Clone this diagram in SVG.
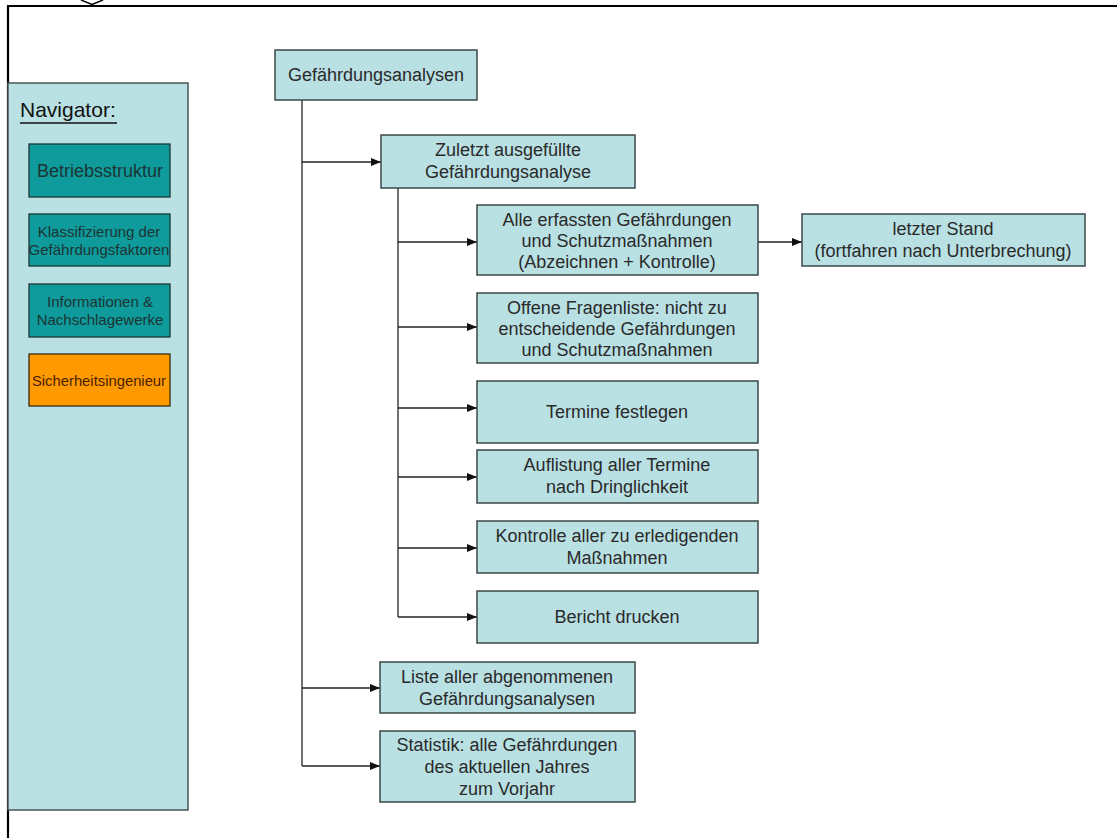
<svg xmlns="http://www.w3.org/2000/svg" width="1117" height="838" viewBox="0 0 1117 838">
  <style>
    .box { fill: #b9e0e3; stroke: #3c4848; stroke-width: 1.5; }
    .nav { fill: #b9e0e3; stroke: #4a5656; stroke-width: 1.5; }
    .btn { fill: #0f9b9b; stroke: #1f3535; stroke-width: 1.3; }
    .btn-alt { fill: #ff9900; stroke: #3a2a10; stroke-width: 1.3; }
    .t { font-family: "Liberation Sans", Arial, sans-serif; font-size: 18px; fill: #2a2a2a; text-anchor: middle; }
    .bt { font-family: "Liberation Sans", Arial, sans-serif; fill: #1c3434; text-anchor: middle; }
    .conn { fill: none; stroke: #222; stroke-width: 1.3; }
    .frame { fill: none; stroke: #000; stroke-width: 2.2; }
  </style>
  <defs>
    <marker id="arrow" viewBox="0 0 10 8" refX="10" refY="4" markerWidth="10" markerHeight="8" markerUnits="userSpaceOnUse" orient="auto">
      <path d="M0,0 L10,4 L0,8 z" fill="#111"/>
    </marker>
  </defs>

  <rect width="1117" height="838" fill="#fff"/>

  <!-- page frame -->
  <g id="frame">
    <path class="frame" d="M8,838 V6 H1117"/>
    <path d="M81,0 L92,4.5 L103,0" fill="none" stroke="#000" stroke-width="1.5"/>
  </g>

  <!-- navigator panel -->
  <g id="navigator">
    <rect class="nav" x="8" y="83" width="180" height="727"/>
    <text x="20" y="117" font-family="'Liberation Sans', Arial, sans-serif" font-size="21" fill="#111">Navigator:</text>
    <line x1="20" y1="123" x2="117" y2="123" stroke="#111" stroke-width="1.3"/>
  </g>
  <g id="nav-betriebsstruktur">
    <rect class="btn" x="29" y="144" width="141" height="53"/>
    <text class="bt" x="100" y="177" font-size="18">Betriebsstruktur</text>
  </g>
  <g id="nav-klassifizierung">
    <rect class="btn" x="29" y="214" width="141" height="52"/>
    <text class="bt" x="99" y="237" font-size="15">Klassifizierung der</text>
    <text class="bt" x="99" y="255" font-size="15">Gefährdungsfaktoren</text>
  </g>
  <g id="nav-informationen">
    <rect class="btn" x="29" y="284" width="141" height="53"/>
    <text class="bt" x="100" y="307" font-size="15">Informationen &amp;</text>
    <text class="bt" x="100" y="325" font-size="15">Nachschlagewerke</text>
  </g>
  <g id="nav-sicherheitsingenieur">
    <rect class="btn-alt" x="29" y="354" width="141" height="52"/>
    <text class="bt" x="99" y="386" font-size="14.8" style="fill:#4a2200">Sicherheitsingenieur</text>
  </g>

  <!-- connectors -->
  <g id="connectors">
    <path class="conn" d="M302,100 V766"/>
    <path class="conn" d="M302,162 H381" marker-end="url(#arrow)"/>
    <path class="conn" d="M302,688 H380" marker-end="url(#arrow)"/>
    <path class="conn" d="M302,766 H380" marker-end="url(#arrow)"/>
    <path class="conn" d="M398,188 V617"/>
    <path class="conn" d="M398,242 H477" marker-end="url(#arrow)"/>
    <path class="conn" d="M398,327 H477" marker-end="url(#arrow)"/>
    <path class="conn" d="M398,408 H477" marker-end="url(#arrow)"/>
    <path class="conn" d="M398,477 H477" marker-end="url(#arrow)"/>
    <path class="conn" d="M398,548 H477" marker-end="url(#arrow)"/>
    <path class="conn" d="M398,617 H477" marker-end="url(#arrow)"/>
    <path class="conn" d="M758,242 H802" marker-end="url(#arrow)"/>
  </g>

  <!-- nodes -->
  <g id="gefaehrdungsanalysen">
    <rect class="box" x="275" y="50" width="202" height="50"/>
    <text class="t" x="376" y="81">Gefährdungsanalysen</text>
  </g>
  <g id="zuletzt">
    <rect class="box" x="381" y="135" width="254" height="53"/>
    <text class="t" x="508" y="156">Zuletzt ausgefüllte</text>
    <text class="t" x="508" y="178">Gefährdungsanalyse</text>
  </g>
  <g id="alle-erfassten">
    <rect class="box" x="477" y="205" width="281" height="70"/>
    <text class="t" x="617" y="226">Alle erfassten Gefährdungen</text>
    <text class="t" x="617" y="247">und Schutzmaßnahmen</text>
    <text class="t" x="617" y="268">(Abzeichnen + Kontrolle)</text>
  </g>
  <g id="letzter-stand">
    <rect class="box" x="802" y="214" width="283" height="52"/>
    <text class="t" x="943" y="235">letzter Stand</text>
    <text class="t" x="943" y="257">(fortfahren nach Unterbrechung)</text>
  </g>
  <g id="offene-fragenliste">
    <rect class="box" x="477" y="293" width="281" height="70"/>
    <text class="t" x="617" y="314">Offene Fragenliste: nicht zu</text>
    <text class="t" x="617" y="335">entscheidende Gefährdungen</text>
    <text class="t" x="617" y="356">und Schutzmaßnahmen</text>
  </g>
  <g id="termine-festlegen">
    <rect class="box" x="477" y="381" width="281" height="62"/>
    <text class="t" x="617" y="418">Termine festlegen</text>
  </g>
  <g id="auflistung">
    <rect class="box" x="477" y="450" width="281" height="53"/>
    <text class="t" x="617" y="471">Auflistung aller Termine</text>
    <text class="t" x="617" y="493">nach Dringlichkeit</text>
  </g>
  <g id="kontrolle">
    <rect class="box" x="477" y="521" width="281" height="52"/>
    <text class="t" x="617" y="542">Kontrolle aller zu erledigenden</text>
    <text class="t" x="617" y="564">Maßnahmen</text>
  </g>
  <g id="bericht-drucken">
    <rect class="box" x="477" y="591" width="281" height="52"/>
    <text class="t" x="617" y="623">Bericht drucken</text>
  </g>
  <g id="liste-abgenommen">
    <rect class="box" x="380" y="662" width="255" height="51"/>
    <text class="t" x="507" y="683">Liste aller abgenommenen</text>
    <text class="t" x="507" y="705">Gefährdungsanalysen</text>
  </g>
  <g id="statistik">
    <rect class="box" x="380" y="731" width="255" height="71"/>
    <text class="t" x="507" y="751">Statistik: alle Gefährdungen</text>
    <text class="t" x="507" y="773">des aktuellen Jahres</text>
    <text class="t" x="507" y="795">zum Vorjahr</text>
  </g>
</svg>
